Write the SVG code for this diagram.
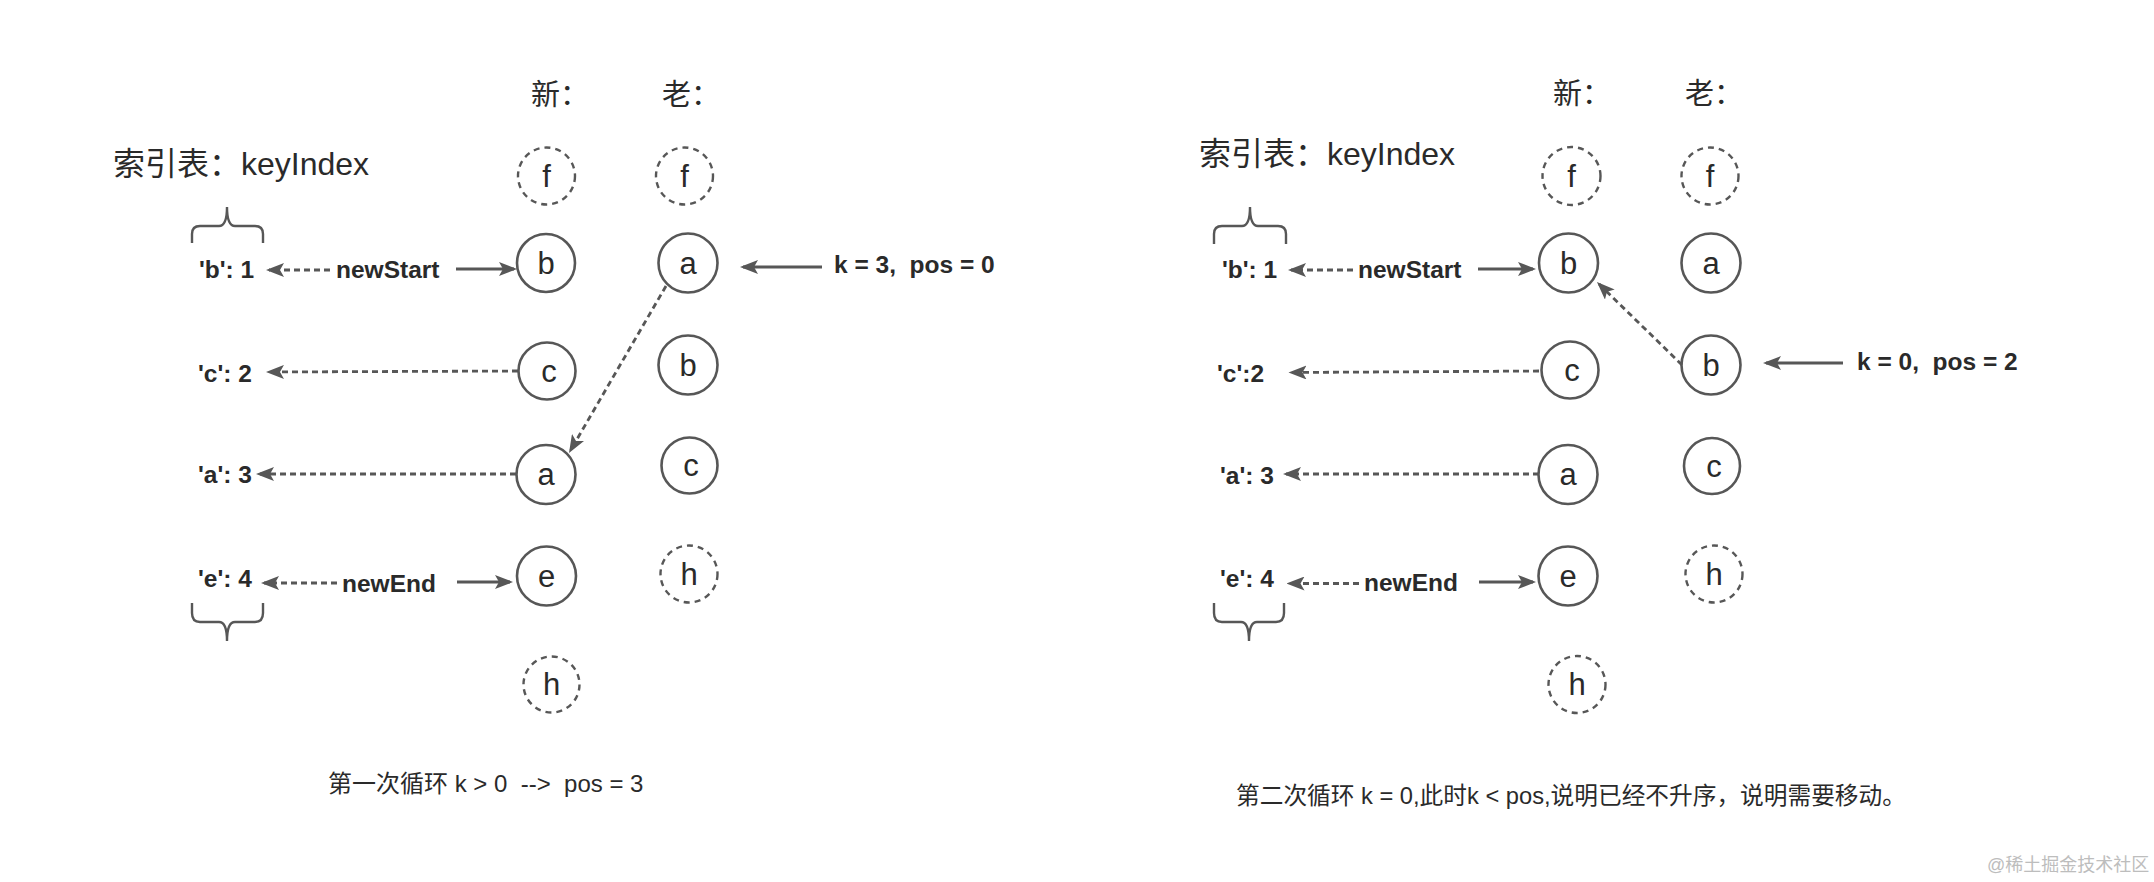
<svg xmlns="http://www.w3.org/2000/svg" width="2154" height="882" viewBox="0 0 2154 882">
<style>
text{font-family:"Liberation Sans","Noto Sans CJK SC",Arial,sans-serif;fill:#2a2a2a}
.t{font-size:32px}
.h{font-size:29px}
.lb{font-size:24.5px;font-weight:bold}
.nl{font-size:31px;text-anchor:middle}
.cap{font-size:24px}
.n{fill:none;stroke:#575757;stroke-width:2.6}
.d{fill:none;stroke:#575757;stroke-width:2.4;stroke-dasharray:6 5}
.ln{fill:none;stroke:#575757;stroke-width:2.8}
.dl{fill:none;stroke:#575757;stroke-width:2.8;stroke-dasharray:6 4}
.br{fill:none;stroke:#575757;stroke-width:2.4}
</style>
<defs>
<marker id="ah" markerUnits="userSpaceOnUse" markerWidth="18" markerHeight="14" viewBox="0 0 18 14" refX="15" refY="7" orient="auto">
<path d="M0,0 L18,7 L0,14 L4,7 z" fill="#575757"/>
</marker>
</defs>

<!-- Left panel -->
<g id="left-labels">
<text class="t" x="113" y="175">索引表：keyIndex</text>
<text class="h" x="531" y="105">新：</text>
<text class="h" x="662" y="105">老：</text>
<text class="lb" x="199" y="278">'b': 1</text>
<text class="lb" x="198" y="382">'c': 2</text>
<text class="lb" x="198" y="483">'a': 3</text>
<text class="lb" x="198" y="587">'e': 4</text>
<text class="lb" x="336" y="278">newStart</text>
<text class="lb" x="342" y="592">newEnd</text>
<text class="lb" x="834" y="273" xml:space="preserve">k = 3,  pos = 0</text>
<text class="cap" x="328" y="792" xml:space="preserve">第一次循环 k &gt; 0  --&gt;  pos = 3</text>
</g>
<g id="left-braces">
<path class="br" d="M192,243 L192,234 Q192,226 200,226 L219,226 Q227,226 227,207 Q227,226 235,226 L255,226 Q263,226 263,234 L263,243"/>
<path class="br" d="M192,603 L192,613 Q192,622 200,622 L219,622 Q227,622 227,641 Q227,622 235,622 L255,622 Q263,622 263,613 L263,603"/>
</g>
<g id="L-new-f"><circle class="d" cx="546.5" cy="176" r="28.5"/><text class="nl" x="546.5" y="187">f</text></g>
<g id="L-new-b"><circle class="n" cx="546" cy="263" r="29"/><text class="nl" x="546" y="274">b</text></g>
<g id="L-new-c"><circle class="n" cx="547" cy="371" r="28.5"/><text class="nl" x="549" y="382">c</text></g>
<g id="L-new-a"><circle class="n" cx="546" cy="474.5" r="29.5"/><text class="nl" x="546" y="485">a</text></g>
<g id="L-new-e"><circle class="n" cx="546.5" cy="576" r="29.5"/><text class="nl" x="546.5" y="587">e</text></g>
<g id="L-new-h"><circle class="d" cx="551.5" cy="684.5" r="28"/><text class="nl" x="551.5" y="695">h</text></g>
<g id="L-old-f"><circle class="d" cx="684.5" cy="176" r="28.5"/><text class="nl" x="684.5" y="187">f</text></g>
<g id="L-old-a"><circle class="n" cx="688" cy="263" r="29.5"/><text class="nl" x="688" y="274">a</text></g>
<g id="L-old-b"><circle class="n" cx="688" cy="365" r="29.5"/><text class="nl" x="688" y="376">b</text></g>
<g id="L-old-c"><circle class="n" cx="689.5" cy="465.5" r="28"/><text class="nl" x="691" y="476">c</text></g>
<g id="L-old-h"><circle class="d" cx="689" cy="574" r="28.5"/><text class="nl" x="689" y="585">h</text></g>

<!-- Right panel -->
<g id="right-labels">
<text class="t" x="1199" y="165">索引表：keyIndex</text>
<text class="h" x="1553" y="104">新：</text>
<text class="h" x="1685" y="104">老：</text>
<text class="lb" x="1222" y="278">'b': 1</text>
<text class="lb" x="1217" y="382">'c':2</text>
<text class="lb" x="1220" y="484">'a': 3</text>
<text class="lb" x="1220" y="587">'e': 4</text>
<text class="lb" x="1358" y="278">newStart</text>
<text class="lb" x="1364" y="591">newEnd</text>
<text class="lb" x="1857" y="370" xml:space="preserve">k = 0,  pos = 2</text>
<text class="cap" x="1236" y="804" style="font-size:23.7px">第二次循环 k = 0,此时k &lt; pos,说明已经不升序，说明需要移动。</text>
<text x="1987" y="871" style="font-size:18px;fill:#bdbdbd">@稀土掘金技术社区</text>
</g>
<g id="right-braces">
<path class="br" d="M1214,244 L1214,234 Q1214,226 1222,226 L1242,226 Q1250,226 1250,207 Q1250,226 1258,226 L1278,226 Q1286,226 1286,234 L1286,244"/>
<path class="br" d="M1214,603 L1214,613 Q1214,622 1222,622 L1241,622 Q1249,622 1249,641 Q1249,622 1257,622 L1276,622 Q1284,622 1284,613 L1284,603"/>
</g>
<g id="R-new-f"><circle class="d" cx="1571.5" cy="176" r="29"/><text class="nl" x="1571.5" y="187">f</text></g>
<g id="R-new-b"><circle class="n" cx="1568.5" cy="263" r="29.5"/><text class="nl" x="1568.5" y="274">b</text></g>
<g id="R-new-c"><circle class="n" cx="1570" cy="370" r="28.5"/><text class="nl" x="1572" y="381">c</text></g>
<g id="R-new-a"><circle class="n" cx="1568" cy="474.5" r="29.5"/><text class="nl" x="1568" y="485">a</text></g>
<g id="R-new-e"><circle class="n" cx="1568" cy="576" r="29.5"/><text class="nl" x="1568" y="587">e</text></g>
<g id="R-new-h"><circle class="d" cx="1577" cy="684.5" r="28.5"/><text class="nl" x="1577" y="695">h</text></g>
<g id="R-old-f"><circle class="d" cx="1710" cy="176" r="28.5"/><text class="nl" x="1710" y="187">f</text></g>
<g id="R-old-a"><circle class="n" cx="1711" cy="263" r="29.5"/><text class="nl" x="1711" y="274">a</text></g>
<g id="R-old-b"><circle class="n" cx="1711" cy="365" r="29.5"/><text class="nl" x="1711" y="376">b</text></g>
<g id="R-old-c"><circle class="n" cx="1712" cy="466" r="28"/><text class="nl" x="1714" y="477">c</text></g>
<g id="R-old-h"><circle class="d" cx="1714" cy="574" r="28.5"/><text class="nl" x="1714" y="585">h</text></g>

<g id="connectors">
<!-- left -->
<line class="dl" x1="330" y1="270" x2="269" y2="270" marker-end="url(#ah)"/>
<line class="ln" x1="456" y1="269" x2="514" y2="269" marker-end="url(#ah)"/>
<line class="dl" x1="518" y1="371" x2="269" y2="372" marker-end="url(#ah)"/>
<line class="dl" x1="516" y1="474" x2="259" y2="474" marker-end="url(#ah)"/>
<line class="dl" x1="337" y1="583" x2="264" y2="583" marker-end="url(#ah)"/>
<line class="ln" x1="457" y1="582" x2="510" y2="582" marker-end="url(#ah)"/>
<line class="ln" x1="822" y1="267" x2="743" y2="267" marker-end="url(#ah)"/>
<line class="dl" x1="666" y1="286" x2="570.5" y2="450.4" marker-end="url(#ah)"/>
<!-- right -->
<line class="dl" x1="1353" y1="270" x2="1291" y2="270" marker-end="url(#ah)"/>
<line class="ln" x1="1478" y1="269" x2="1533" y2="269" marker-end="url(#ah)"/>
<line class="dl" x1="1539" y1="371" x2="1291.5" y2="372.5" marker-end="url(#ah)"/>
<line class="dl" x1="1539" y1="474" x2="1286" y2="474" marker-end="url(#ah)"/>
<line class="dl" x1="1359" y1="583.5" x2="1289.5" y2="583.5" marker-end="url(#ah)"/>
<line class="ln" x1="1479" y1="582" x2="1533" y2="582" marker-end="url(#ah)"/>
<line class="ln" x1="1843" y1="363" x2="1766" y2="363" marker-end="url(#ah)"/>
<line class="dl" x1="1682" y1="365" x2="1599.1" y2="284.1" marker-end="url(#ah)"/>
</g>
</svg>
